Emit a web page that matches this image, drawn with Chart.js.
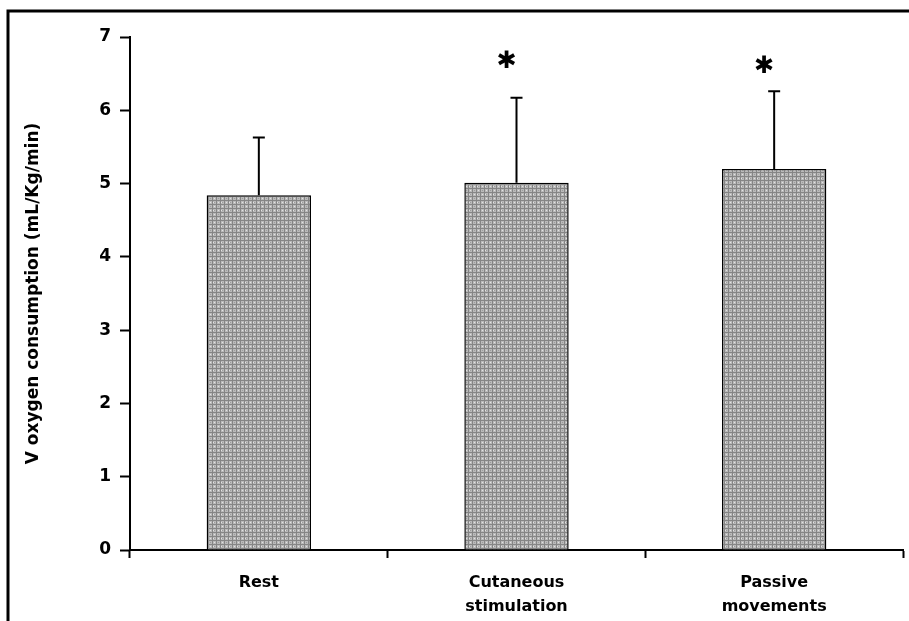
<!DOCTYPE html>
<html>
<head>
<meta charset="utf-8">
<script src="https://cdn.jsdelivr.net/npm/chart.js@4.4.1/dist/chart.umd.min.js"></script>
<style>
  html, body { margin: 0; padding: 0; background: #fff; }
  canvas { display: block; }
</style>
</head>
<body>
<canvas id="chart" width="909" height="621"></canvas>
<script>
// values
const categories = [['Rest'], ['Cutaneous', 'stimulation'], ['Passive', 'movements']];
const meanValues = [4.84, 5.01, 5.2];
const sdValues = [0.79, 1.16, 1.06];
const sigMarks = ['', '\u2731', '\u2731'];
const sigLevels = [null, 6.66, 6.59];
const yTicks = [0, 1, 2, 3, 4, 5, 6, 7];

const FONT = '"DejaVu Sans", sans-serif';

// grey screen-like fill for the bars (a scanned halftone look)
function makeHatch() {
  const c = document.createElement('canvas');
  c.width = 8; c.height = 8;
  const g = c.getContext('2d');
  g.fillStyle = '#bababa';
  g.fillRect(0, 0, 8, 8);
  g.fillStyle = '#858585';
  g.fillRect(0, 0, 8, 1);
  g.fillRect(0, 4, 8, 1);
  g.fillRect(0, 0, 1, 8);
  g.fillRect(4, 0, 1, 8);
  g.fillStyle = '#e2e2e2';
  g.fillRect(2, 2, 1, 1);
  g.fillRect(6, 6, 1, 1);
  g.fillRect(5, 2, 1, 1);
  g.fillStyle = '#9c9c9c';
  g.fillRect(6, 2, 1, 1);
  g.fillRect(2, 6, 1, 1);
  return g.createPattern(c, 'repeat');
}

const errorBars = {
  id: 'errorBars',
  afterDatasetsDraw(chart) {
    const ctx = chart.ctx;
    const meta = chart.getDatasetMeta(0);
    const y = chart.scales.y;
    ctx.save();
    ctx.strokeStyle = '#000';
    ctx.lineWidth = 2;
    meta.data.forEach((bar, i) => {
      const top = y.getPixelForValue(meanValues[i] + sdValues[i]);
      ctx.beginPath();
      ctx.moveTo(bar.x, bar.y);
      ctx.lineTo(bar.x, top);
      ctx.moveTo(bar.x - 6, top);
      ctx.lineTo(bar.x + 6, top);
      ctx.stroke();
      if (sigMarks[i]) {
        ctx.fillStyle = '#000';
        ctx.font = 'bold 24px ' + FONT;
        ctx.textAlign = 'center';
        ctx.textBaseline = 'middle';
        ctx.fillText(sigMarks[i], bar.x - 10, y.getPixelForValue(sigLevels[i]));
      }
    });
    ctx.restore();
  }
};

// the scanned page frame (top and left edges)
const pageFrame = {
  id: 'pageFrame',
  afterDraw(chart) {
    const ctx = chart.ctx;
    ctx.save();
    ctx.strokeStyle = '#000';
    ctx.lineWidth = 3;
    ctx.beginPath();
    ctx.moveTo(8, 621);
    ctx.lineTo(8, 11);
    ctx.lineTo(909, 11);
    ctx.stroke();
    ctx.restore();
  }
};

new Chart(document.getElementById('chart'), {
  type: 'bar',
  data: {
    labels: categories,
    datasets: [{
      data: meanValues,
      backgroundColor: makeHatch(),
      borderColor: '#000',
      borderWidth: 1.5,
      borderSkipped: 'bottom',
      categoryPercentage: 1,
      barPercentage: 0.405
    }]
  },
  options: {
    responsive: false,
    animation: false,
    layout: { padding: { top: 37, right: 6, left: 0, bottom: 0 } },
    plugins: {
      legend: { display: false },
      tooltip: { enabled: false }
    },
    scales: {
      x: {
        afterFit(scale) { scale.height = 71; },
        grid: {
          offset: true,
          drawOnChartArea: false,
          drawTicks: true,
          tickLength: 8,
          tickWidth: 2,
          tickColor: '#000'
        },
        border: { display: true, color: '#000', width: 2 },
        ticks: {
          color: '#000',
          padding: 12,
          font: { family: FONT, size: 16, weight: 'bold', lineHeight: 1.55 }
        }
      },
      y: {
        min: 0,
        max: 7,
        afterFit(scale) { scale.width = 130; },
        afterBuildTicks(scale) { scale.ticks = yTicks.map(v => ({ value: v })); },
        grid: {
          drawOnChartArea: false,
          drawTicks: true,
          tickLength: 10,
          tickWidth: 2,
          tickColor: '#000'
        },
        border: { display: true, color: '#000', width: 2 },
        ticks: {
          color: '#000',
          padding: 9,
          font: { family: FONT, size: 17, weight: 'bold' }
        },
        title: {
          display: true,
          text: 'V oxygen consumption (mL/Kg/min)',
          color: '#000',
          padding: { top: 23, bottom: 0 },
          font: { family: FONT, size: 17, weight: 'bold' }
        }
      }
    }
  },
  plugins: [errorBars, pageFrame]
});
</script>
</body>
</html>
